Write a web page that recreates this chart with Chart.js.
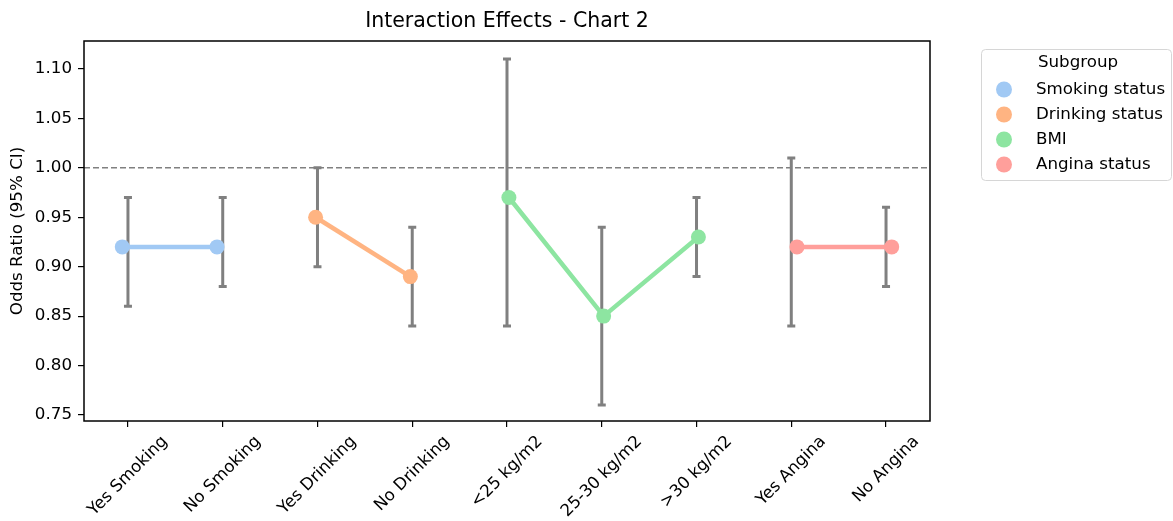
<!DOCTYPE html>
<html>
<head>
<meta charset="utf-8">
<script src="https://cdn.jsdelivr.net/npm/chart.js@4.4.0/dist/chart.umd.min.js"></script>
<style>
  html, body { margin: 0; padding: 0; background: #fff; }
  #chart { display: block; }
</style>
</head>
<body>
<canvas id="chart" width="1173" height="521"></canvas>
<script>
// categories along the x axis
const categories = ["Yes Smoking", "No Smoking", "Yes Drinking", "No Drinking",
    "<25 kg/m2", "25-30 kg/m2", ">30 kg/m2", "Yes Angina", "No Angina"];

// odds ratios and 95% CI, same order as categories
const oddsRatio = [0.92, 0.92, 0.95, 0.89, 0.97, 0.85, 0.93, 0.92, 0.92];
const ciLower   = [0.86, 0.88, 0.90, 0.84, 0.84, 0.76, 0.89, 0.84, 0.88];
const ciUpper   = [0.97, 0.97, 1.00, 0.94, 1.11, 0.94, 0.97, 1.01, 0.96];

// subgroups: which categories belong to each
const subgroups = ["Smoking status", "Drinking status", "BMI", "Angina status"];
const subgroupIndex = [[0, 1], [2, 3], [4, 5, 6], [7, 8]];
const subgroupColors = ["#a1c9f4", "#ffb482", "#8de5a1", "#ff9f9b"];
const dodge = [-0.06, -0.02, 0.02, 0.06];

const yTicks = [0.75, 0.80, 0.85, 0.90, 0.95, 1.00, 1.05, 1.10];

const FONT = "'DejaVu Sans', sans-serif";
const SIZE = 16.7;

const datasets = subgroups.map((name, g) => ({
    label: name,
    data: subgroupIndex[g].map(i => ({ x: i + dodge[g], y: oddsRatio[i] })),
    borderColor: subgroupColors[g],
    backgroundColor: subgroupColors[g],
    showLine: true,
    borderWidth: 4.5,
    pointRadius: 7.5,
    pointHoverRadius: 7.5,
    pointBorderWidth: 0
}));

// error bars, reference line, frame, title and legend
const extras = {
    id: 'extras',
    beforeDatasetsDraw(chart) {
        const ctx = chart.ctx;
        const xs = chart.scales.x, ys = chart.scales.y;
        const area = chart.chartArea;
        ctx.save();
        // dashed line at 1.0
        ctx.strokeStyle = '#808080';
        ctx.lineWidth = 1.5;
        ctx.setLineDash([6, 3]);
        const y1 = ys.getPixelForValue(1.0);
        ctx.beginPath();
        ctx.moveTo(area.left, y1);
        ctx.lineTo(area.right, y1);
        ctx.stroke();
        ctx.setLineDash([]);
        // CI bars
        ctx.lineWidth = 3;
        categories.forEach((c, i) => {
            const x = xs.getPixelForValue(i);
            const lo = ys.getPixelForValue(ciLower[i]);
            const hi = ys.getPixelForValue(ciUpper[i]);
            ctx.beginPath();
            ctx.moveTo(x, lo); ctx.lineTo(x, hi);
            ctx.moveTo(x - 4, lo); ctx.lineTo(x + 4, lo);
            ctx.moveTo(x - 4, hi); ctx.lineTo(x + 4, hi);
            ctx.stroke();
        });
        ctx.restore();
    },
    afterDraw(chart) {
        const ctx = chart.ctx;
        const xs = chart.scales.x;
        const area = chart.chartArea;
        ctx.save();
        // frame
        ctx.strokeStyle = '#000';
        ctx.lineWidth = 1.5;
        ctx.strokeRect(area.left, area.top, area.right - area.left, area.bottom - area.top);

        // title
        ctx.fillStyle = '#000';
        ctx.font = "20.5px " + FONT;
        ctx.textAlign = 'center';
        ctx.textBaseline = 'middle';
        ctx.fillText("Interaction Effects - Chart 2", (area.left + area.right) / 2, 22);

        // y label
        ctx.font = SIZE + "px " + FONT;
        ctx.save();
        ctx.translate(18, (area.top + area.bottom) / 2);
        ctx.rotate(-Math.PI / 2);
        ctx.fillText("Odds Ratio (95% CI)", 0, 0);
        ctx.restore();

        // rotated x labels, centred on ticks
        const top = area.bottom + 12;
        categories.forEach((c, i) => {
            const w = ctx.measureText(c).width;
            const cy = top + (w + SIZE) * Math.SQRT1_2 / 2;
            ctx.save();
            ctx.translate(xs.getPixelForValue(i), cy);
            ctx.rotate(-Math.PI / 4);
            ctx.fillText(c, 0, 0);
            ctx.restore();
        });

        // legend
        const lx = 981, ly = 49, lw = 190, lh = 131;
        ctx.strokeStyle = '#d6d6d6';
        ctx.lineWidth = 1;
        ctx.beginPath();
        ctx.roundRect(lx + 0.5, ly + 0.5, lw, lh, 4);
        ctx.fillStyle = 'rgba(255,255,255,0.8)';
        ctx.fill();
        ctx.stroke();
        ctx.fillStyle = '#000';
        ctx.textAlign = 'center';
        ctx.fillText("Subgroup", 1078, 63);
        ctx.textAlign = 'left';
        subgroups.forEach((name, g) => {
            const yy = 89.5 + g * 25;
            ctx.fillStyle = subgroupColors[g];
            ctx.beginPath();
            ctx.arc(1004, yy, 8, 0, Math.PI * 2);
            ctx.fill();
            ctx.fillStyle = '#000';
            ctx.fillText(name, 1036, yy);
        });
        ctx.restore();
    }
};

new Chart(document.getElementById('chart'), {
    type: 'scatter',
    data: { datasets },
    plugins: [extras],
    options: {
        responsive: false,
        animation: false,
        layout: { padding: { top: 41, right: 243, left: 0, bottom: 0 } },
        plugins: { legend: { display: false }, tooltip: { enabled: false } },
        scales: {
            x: {
                type: 'linear',
                min: -0.464,
                max: 8.464,
                afterBuildTicks: s => { s.ticks = categories.map((c, i) => ({ value: i })); },
                afterFit: s => { s.height = 100; },
                ticks: { display: false },
                border: { display: false },
                grid: { drawOnChartArea: false, drawTicks: true, tickLength: 6, color: '#000', lineWidth: 1.2 }
            },
            y: {
                min: 0.7439,
                max: 1.1283,
                afterBuildTicks: s => { s.ticks = yTicks.map(v => ({ value: v })); },
                afterFit: s => { s.width = 84; },
                ticks: {
                    color: '#000',
                    padding: 6,
                    font: { family: FONT, size: SIZE },
                    callback: v => v.toFixed(2)
                },
                border: { display: false },
                grid: { drawOnChartArea: false, drawTicks: true, tickLength: 6, color: '#000', lineWidth: 1.2 }
            }
        }
    }
});
</script>
</body>
</html>
